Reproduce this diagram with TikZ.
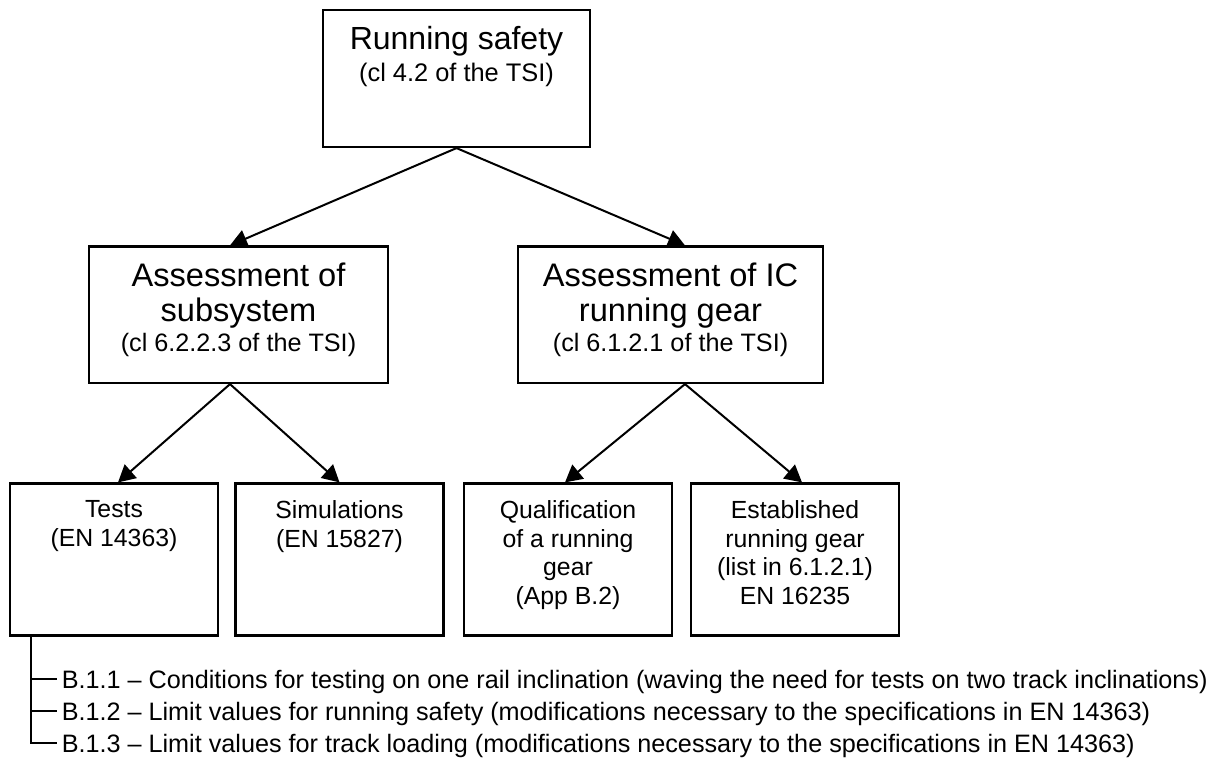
\documentclass[tikz,border=0pt]{standalone}
\usepackage{fontspec}
\setmainfont{Liberation Sans}
\usetikzlibrary{positioning,arrows.meta}

\begin{document}
\begin{tikzpicture}[x=0.5pt, y=-0.5pt,
        box/.style={draw, line width=1.1pt, inner sep=0pt},
        topbox/.style={box, minimum width=104pt, minimum height=76pt},
        boxtext/.style={align=center, inner sep=0pt},
        lowtext/.style={boxtext, font=\fontsize{12.4}{14.25}\selectfont, below=9pt of #1.north},
        arr/.style={-{Triangle[length=8.5pt,width=9pt]}, line width=1pt},
        clause/.style={anchor=west, inner xsep=2.2pt, inner ysep=0pt, text height=9pt, text depth=0pt, font=\fontsize{12.6}{14}\selectfont}]
    \useasboundingbox (0,0) rectangle (1224,758);

    % Running safety
    \node[box, minimum width=133.5pt, minimum height=68.5pt] (rs) at (456.5,78.5) {};
    \node[boxtext, font=\fontsize{16}{16}\selectfont, below=8.35pt of rs.north] (rs-text)
        {Running safety\\ \fontsize{12.7}{15}\selectfont (cl 4.2 of the TSI)};

    % Assessment boxes
    \node[box, minimum width=149.5pt, minimum height=68.25pt] (sub) at (238.5,314.75) {};
    \node[boxtext, font=\fontsize{16.3}{17.5}\selectfont, below=8.4pt of sub.north] (sub-text)
        {Assessment of\\subsystem\\[-2.5pt] \fontsize{12.6}{15}\selectfont (cl 6.2.2.3 of the TSI)};
    \node[box, minimum width=152.5pt, minimum height=68.25pt] (icg) at (670.5,314.75) {};
    \node[boxtext, font=\fontsize{16.3}{17.5}\selectfont, below=8.4pt of icg.north] (icg-text)
        {Assessment of IC\\running gear\\[-2.5pt] \fontsize{12.6}{15}\selectfont (cl 6.1.2.1 of the TSI)};

    % Lower boxes
    \node[topbox] (tests) at (114,559.5) {};
    \node[lowtext=tests] (tests-text) {Tests\\(EN 14363)};
    \node[topbox] (sims) at (339.5,559.5) {};
    \node[lowtext=sims] (sims-text) {Simulations\\(EN 15827)};
    \node[topbox] (qual) at (568,559.5) {};
    \node[lowtext=qual] (qual-text) {Qualification\\of a running\\gear\\(App B.2)};
    \node[topbox] (est) at (795,559.5) {};
    \node[lowtext=est] (est-text) {Established\\running gear\\(list in 6.1.2.1)\\EN 16235};

    % Arrows
    \draw[arr] (rs.south) -- ([xshift=-4.25pt]sub.north);
    \draw[arr] (rs.south) -- ([xshift=7.25pt]icg.north);
    \draw[arr] ([xshift=-4.25pt]sub.south) -- ([xshift=2pt]tests.north);
    \draw[arr] ([xshift=-4.25pt]sub.south) -- (sims.north);
    \draw[arr] ([xshift=7.25pt]icg.south) -- ([xshift=-1.5pt]qual.north);
    \draw[arr] ([xshift=7.25pt]icg.south) -- ([xshift=3.5pt]est.north);

    % Clauses of Annex B
    \node[clause] (b11) at (57,679.3) {B.1.1 – Conditions for testing on one rail inclination (waving the need for tests on two track inclinations)};
    \node[clause] (b12) at (57,711.3) {B.1.2 – Limit values for running safety (modifications necessary to the specifications in EN 14363)};
    \node[clause] (b13) at (57,743) {B.1.3 – Limit values for track loading (modifications necessary to the specifications in EN 14363)};
    \coordinate (trunk) at ([xshift=11pt]tests.south west);
    \foreach \b in {b11,b12,b13}
        \draw[line width=1pt] (trunk) |- (\b.west);
\end{tikzpicture}
\end{document}
